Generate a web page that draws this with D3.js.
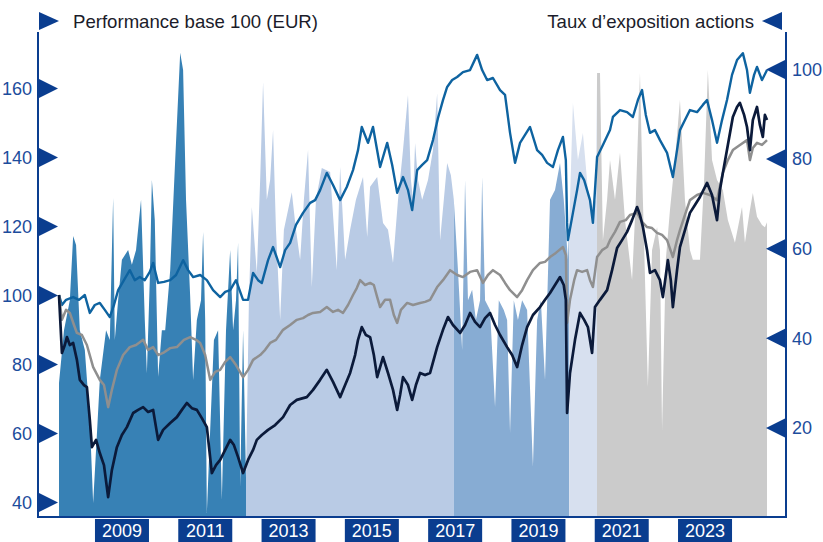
<!DOCTYPE html>
<html><head><meta charset="utf-8">
<script src="https://cdn.jsdelivr.net/npm/d3@7"></script>
<style>
html,body{margin:0;padding:0;background:#fff;}
svg{display:block;font-family:"Liberation Sans",Arial,sans-serif;}
</style></head>
<body><svg id="c" width="823" height="542"></svg>
<script>
// ---------- DATA ----------
const leftTicks = [40, 60, 80, 100, 120, 140, 160];
const rightTicks = [20, 40, 60, 80, 100];
const yearLabels = [2009, 2011, 2013, 2015, 2017, 2019, 2021, 2023];
const leftTitle = "Performance base 100 (EUR)";
const rightTitle = "Taux d\u2019exposition actions";
// exposure regime boundaries (decimal years)
const periodBreaks = [2008, 2012.49, 2017.48, 2020.25, 2020.92, 2025];

// equity exposure (%), [decimal year, value]
const exposure = [
[2008.00,29.9],[2008.12,41.7],[2008.26,48.4],[2008.34,62.7],[2008.41,60.7],[2008.50,41.7],[2008.62,37.3],[2008.74,21.7],[2008.82,3.1],[2008.89,15.0],
[2008.98,30.6],[2009.13,41.7],[2009.22,39.5],[2009.30,71.2],[2009.34,39.5],[2009.42,48.4],[2009.51,57.4],[2009.66,59.6],[2009.75,56.3],[2009.85,59.6],
[2009.97,70.8],[2010.06,44.0],[2010.11,32.1],[2010.18,52.9],[2010.23,75.2],[2010.30,66.3],[2010.38,31.3],[2010.47,41.7],[2010.55,41.7],[2010.67,55.1],
[2010.79,79.7],[2010.91,103.6],[2010.98,99.8],[2011.05,70.8],[2011.15,49.1],[2011.22,30.6],[2011.31,44.0],[2011.41,48.4],[2011.46,63.6],[2011.51,44.0],
[2011.55,0.9],[2011.63,19.4],[2011.72,39.5],[2011.82,41.7],[2011.91,3.8],[2012.01,41.7],[2012.11,59.6],[2012.18,41.7],[2012.25,48.4],[2012.30,61.2],
[2012.35,6.7],[2012.42,41.7],[2012.49,8.9],
[2012.56,48.4],[2012.63,69.2],[2012.75,54.5],[2012.83,75.2],[2012.90,97.1],[2012.99,70.8],[2013.07,75.2],[2013.14,86.4],[2013.21,64.1],[2013.31,44.0],
[2013.40,64.1],[2013.50,68.5],[2013.59,72.5],[2013.69,64.1],[2013.79,57.4],[2013.88,70.8],[2013.98,81.9],[2014.07,51.3],[2014.17,70.8],[2014.31,77.9],
[2014.51,77.0],[2014.67,55.1],[2014.75,78.1],[2014.87,57.4],[2014.99,64.1],[2015.13,70.8],[2015.30,75.9],[2015.40,62.5],[2015.47,73.7],[2015.64,75.9],
[2015.78,65.6],[2015.90,64.1],[2016.02,56.7],[2016.14,70.8],[2016.26,81.9],[2016.38,94.2],[2016.45,75.2],[2016.50,70.8],[2016.55,83.5],[2016.62,75.2],
[2016.72,70.8],[2016.86,75.2],[2016.98,81.9],[2017.08,94.6],[2017.15,61.8],[2017.24,70.8],[2017.32,79.0],[2017.41,76.3],[2017.48,70.8],
[2017.58,55.1],[2017.68,37.3],[2017.75,75.2],[2017.82,48.4],[2017.92,50.7],[2018.01,44.0],[2018.11,48.4],[2018.16,75.9],[2018.23,48.4],[2018.35,46.2],
[2018.47,24.6],[2018.56,48.4],[2018.68,46.2],[2018.76,44.0],[2018.83,18.8],[2018.92,48.4],[2019.02,44.0],[2019.12,48.4],[2019.24,46.2],[2019.38,11.2],
[2019.48,44.0],[2019.57,48.4],[2019.67,30.6],[2019.79,70.8],[2019.91,73.0],[2020.03,79.0],[2020.12,70.8],[2020.22,57.4],
[2020.27,70.8],[2020.34,92.4],[2020.46,79.7],[2020.58,85.7],[2020.70,73.0],[2020.82,69.2],[2020.89,70.8],
[2020.92,99.1],[2020.99,99.1],[2021.06,61.8],[2021.16,70.8],[2021.23,79.7],[2021.35,70.8],[2021.47,81.3],[2021.59,66.3],[2021.76,52.9],[2021.85,70.8],
[2021.95,99.1],[2022.02,70.8],[2022.14,29.0],[2022.24,59.6],[2022.36,64.7],[2022.43,59.6],[2022.48,19.4],[2022.57,57.4],[2022.67,68.5],[2022.79,79.7],
[2022.91,93.1],[2023.03,70.8],[2023.15,59.6],[2023.22,57.4],[2023.39,57.4],[2023.49,75.2],[2023.58,99.8],[2023.68,79.7],[2023.80,75.2],[2023.94,73.0],
[2024.06,66.3],[2024.23,61.2],[2024.40,69.2],[2024.47,61.2],[2024.59,68.5],[2024.66,72.3],[2024.76,67.0],[2024.88,65.2],[2024.95,64.7],[2025.00,65.8]
];

// performance base 100 series, [decimal year, value]
const seriesBlue = [
[2008.00,100],[2008.07,97.1],[2008.17,98.6],[2008.34,99.4],[2008.48,98.6],[2008.62,100],[2008.74,94.8],[2008.86,97.1],[2008.98,97.7],[2009.10,95.7],
[2009.22,93.6],[2009.32,97.1],[2009.42,101.4],[2009.56,104.3],[2009.70,107.2],[2009.82,104.3],[2009.94,105.2],[2010.06,104.3],[2010.18,106.7],[2010.26,109.3],
[2010.38,103.5],[2010.52,103.8],[2010.67,104.3],[2010.81,105.8],[2010.98,110.1],[2011.10,107.2],[2011.22,105.2],[2011.39,105.8],[2011.55,104.3],[2011.70,101.4],
[2011.87,99.4],[2011.99,100.9],[2012.11,101.4],[2012.25,104.3],[2012.42,98.6],[2012.54,98.6],[2012.66,106.4],[2012.78,104.3],[2012.87,103.5],[2013.02,110.1],
[2013.14,113.9],[2013.31,108.1],[2013.43,113.0],[2013.55,115.1],[2013.69,120.3],[2013.86,123.8],[2014.03,126.7],[2014.15,127.5],[2014.27,130.4],[2014.43,135.4],
[2014.58,131.9],[2014.75,127.5],[2014.91,131.3],[2015.06,136.2],[2015.18,142.0],[2015.27,148.7],[2015.42,144.1],[2015.54,148.7],[2015.71,137.1],[2015.88,144.1],
[2016.00,137.7],[2016.12,129.6],[2016.26,134.2],[2016.38,130.4],[2016.48,124.6],[2016.60,136.2],[2016.72,137.7],[2016.84,139.1],[2016.98,144.9],[2017.10,151.3],
[2017.22,156.5],[2017.32,160.3],[2017.44,162.3],[2017.56,163.2],[2017.70,164.6],[2017.87,165.2],[2018.04,169.6],[2018.16,165.2],[2018.28,162.3],[2018.42,162.9],
[2018.59,159.4],[2018.71,158.0],[2018.83,147.0],[2018.95,138.3],[2019.07,144.1],[2019.19,146.4],[2019.31,148.7],[2019.48,142.0],[2019.60,140.6],[2019.72,138.3],
[2019.86,137.1],[2019.98,142.0],[2020.10,145.8],[2020.17,139.1],[2020.20,120.9],[2020.22,115.9],[2020.34,123.8],[2020.44,130.4],[2020.51,135.4],[2020.61,133.3],
[2020.68,130.4],[2020.75,127.5],[2020.82,120.9],[2020.92,140.0],[2021.06,143.5],[2021.23,147.8],[2021.30,151.6],[2021.47,153.6],[2021.64,153.0],[2021.78,151.6],
[2021.90,156.5],[2022.00,159.4],[2022.09,152.2],[2022.19,147.0],[2022.31,147.8],[2022.43,144.9],[2022.60,141.2],[2022.74,134.2],[2022.84,142.0],[2022.91,147.8],
[2023.03,150.7],[2023.15,153.6],[2023.32,153.0],[2023.46,155.1],[2023.56,156.5],[2023.68,150.7],[2023.80,144.1],[2023.92,150.7],[2024.04,156.5],[2024.16,163.8],
[2024.28,168.1],[2024.42,170.1],[2024.52,165.2],[2024.59,158.6],[2024.69,163.8],[2024.76,166.1],[2024.88,162.3],[2025.00,165.2]
];
const seriesGray = [
[2008.00,100],[2008.07,92.8],[2008.17,95.7],[2008.26,94.8],[2008.36,91.3],[2008.43,89.0],[2008.55,88.4],[2008.67,85.5],[2008.82,79.1],[2008.98,75.4],
[2009.08,73.9],[2009.18,67.5],[2009.27,72.5],[2009.39,78.3],[2009.54,82.6],[2009.70,84.9],[2009.85,85.5],[2010.02,87.0],[2010.14,84.1],[2010.26,84.9],
[2010.38,82.6],[2010.50,83.2],[2010.67,84.6],[2010.83,84.9],[2011.00,87.0],[2011.15,87.8],[2011.29,87.0],[2011.39,86.1],[2011.51,82.6],[2011.63,75.4],
[2011.75,77.7],[2011.87,78.3],[2011.99,80.6],[2012.11,82.0],[2012.25,79.7],[2012.42,76.2],[2012.54,78.3],[2012.66,81.2],[2012.83,82.6],[2012.95,84.1],
[2013.07,86.1],[2013.21,87.0],[2013.38,89.9],[2013.55,91.3],[2013.71,92.8],[2013.86,93.3],[2013.98,94.2],[2014.10,94.8],[2014.27,95.1],[2014.43,96.5],
[2014.58,95.1],[2014.70,95.7],[2014.82,94.8],[2014.94,97.1],[2015.06,100.0],[2015.15,102.0],[2015.23,104.3],[2015.35,102.9],[2015.47,103.5],[2015.56,102.9],
[2015.64,99.4],[2015.71,96.5],[2015.83,98.6],[2015.95,98.6],[2016.04,94.2],[2016.12,91.9],[2016.21,95.7],[2016.36,97.7],[2016.50,97.1],[2016.67,97.7],
[2016.79,98.0],[2016.91,98.6],[2017.08,102.3],[2017.22,104.3],[2017.39,107.2],[2017.56,105.8],[2017.70,105.2],[2017.87,106.7],[2018.04,107.2],[2018.18,103.5],
[2018.30,105.8],[2018.42,107.2],[2018.59,105.8],[2018.71,103.5],[2018.83,101.4],[2019.00,99.4],[2019.12,101.4],[2019.24,104.3],[2019.38,107.2],[2019.55,109.3],
[2019.67,109.6],[2019.79,111.0],[2019.93,112.2],[2020.10,113.9],[2020.17,111.6],[2020.20,91.9],[2020.27,98.6],[2020.37,104.3],[2020.44,107.2],[2020.56,106.7],
[2020.68,107.2],[2020.75,104.3],[2020.82,102.3],[2020.92,111.0],[2021.04,113.0],[2021.16,113.9],[2021.23,115.9],[2021.35,118.3],[2021.47,121.2],[2021.61,121.7],
[2021.71,123.2],[2021.88,123.8],[2022.00,121.2],[2022.12,119.7],[2022.24,119.4],[2022.36,118.0],[2022.48,117.4],[2022.60,115.9],[2022.74,111.0],[2022.84,115.9],
[2022.91,118.8],[2023.03,123.2],[2023.15,127.5],[2023.32,129.0],[2023.46,129.6],[2023.63,129.0],[2023.80,127.5],[2023.94,135.4],[2024.06,139.1],[2024.18,142.0],
[2024.35,143.5],[2024.52,144.9],[2024.59,139.1],[2024.66,142.6],[2024.76,144.1],[2024.88,143.5],[2025.00,144.9]
];
const seriesNavy = [
[2008.00,100],[2008.07,83.2],[2008.14,85.5],[2008.19,87.8],[2008.26,85.5],[2008.34,86.1],[2008.43,81.2],[2008.50,75.4],[2008.60,73.9],[2008.67,73.3],
[2008.74,63.8],[2008.79,55.9],[2008.89,58.0],[2008.98,54.2],[2009.08,50.7],[2009.18,41.4],[2009.27,49.3],[2009.39,55.9],[2009.51,59.4],[2009.63,61.7],
[2009.78,65.8],[2009.90,66.7],[2010.02,67.5],[2010.14,66.1],[2010.26,66.7],[2010.38,58.0],[2010.50,60.9],[2010.67,62.9],[2010.83,64.6],[2010.95,66.7],
[2011.07,68.7],[2011.19,67.2],[2011.31,66.7],[2011.43,64.3],[2011.55,61.7],[2011.67,48.4],[2011.77,50.7],[2011.87,52.2],[2011.99,55.1],[2012.11,58.0],
[2012.20,56.5],[2012.30,53.0],[2012.42,48.4],[2012.54,52.2],[2012.66,55.1],[2012.75,58.0],[2012.87,59.4],[2013.02,60.9],[2013.19,62.3],[2013.38,64.6],
[2013.55,68.1],[2013.71,69.6],[2013.95,70.4],[2014.10,72.5],[2014.27,75.4],[2014.43,78.3],[2014.58,74.8],[2014.75,70.4],[2014.87,73.9],[2014.99,77.4],
[2015.11,82.6],[2015.18,87.0],[2015.27,90.7],[2015.37,88.4],[2015.47,87.8],[2015.56,82.6],[2015.64,76.2],[2015.78,82.0],[2015.90,77.4],[2016.02,72.5],
[2016.12,66.7],[2016.19,71.0],[2016.26,76.2],[2016.38,73.9],[2016.48,69.6],[2016.57,73.9],[2016.67,77.4],[2016.79,76.8],[2016.91,77.4],[2017.08,84.9],
[2017.22,89.9],[2017.34,93.6],[2017.46,91.3],[2017.63,89.0],[2017.75,91.3],[2017.87,94.8],[2017.99,92.2],[2018.11,90.7],[2018.23,93.3],[2018.35,94.8],
[2018.47,91.3],[2018.59,88.4],[2018.76,84.9],[2018.88,82.6],[2019.00,79.1],[2019.12,85.5],[2019.24,90.7],[2019.38,94.2],[2019.55,96.5],[2019.67,98.6],
[2019.79,100.6],[2019.91,102.9],[2020.03,105.2],[2020.12,102.9],[2020.17,98.6],[2020.20,65.8],[2020.27,77.4],[2020.39,87.0],[2020.51,94.8],[2020.61,92.8],
[2020.70,90.7],[2020.80,83.2],[2020.87,96.5],[2020.99,98.6],[2021.16,101.4],[2021.28,107.2],[2021.40,113.6],[2021.52,115.9],[2021.64,118.3],[2021.76,121.7],
[2021.88,125.5],[2021.95,123.2],[2022.02,119.7],[2022.12,113.0],[2022.19,106.4],[2022.31,107.2],[2022.43,104.3],[2022.50,99.4],[2022.62,110.1],[2022.69,104.3],
[2022.74,96.5],[2022.84,107.2],[2022.91,113.9],[2023.03,118.8],[2023.15,123.8],[2023.27,126.1],[2023.39,128.4],[2023.56,132.5],[2023.68,129.0],[2023.80,121.7],
[2023.87,130.4],[2023.94,135.4],[2024.06,143.5],[2024.18,151.6],[2024.28,154.5],[2024.35,155.7],[2024.45,152.2],[2024.52,148.7],[2024.59,142.0],[2024.66,150.7],
[2024.76,154.5],[2024.83,149.3],[2024.90,145.8],[2024.95,152.2],[2025.00,150.7]
];

// ---------- STYLE ----------
const periodColors = ["#3781b5", "#b9cbe5", "#87acd3", "#d7e0ef", "#cbcbcb"];
const axisBlue = "#0a3d8f";
const labelBlue = "#1c4c9c";

// ---------- CHART ----------
const svg = d3.select("#c");
const frame = {left: 38, right: 786, top: 32, bottom: 517};

const x = d3.scaleLinear().domain([2008, 2025]).range([59, 767]);
const yL = d3.scaleLinear().domain([40, 160]).range([502, 88]);
const yR = d3.scaleLinear().domain([0, 100]).range([frame.bottom, 69]);

// clip paths per exposure regime
const defs = svg.append("defs");
periodBreaks.slice(0, -1).forEach((b, i) => {
  defs.append("clipPath").attr("id", "clip" + i)
    .append("rect")
    .attr("x", x(b)).attr("y", 0)
    .attr("width", x(periodBreaks[i + 1]) - x(b))
    .attr("height", frame.bottom);
});

const area = d3.area()
  .x(d => x(d[0])).y0(yR(0)).y1(d => yR(d[1]));

const gArea = svg.append("g");
periodColors.forEach((c, i) => {
  gArea.append("path").datum(exposure)
    .attr("clip-path", `url(#clip${i})`)
    .attr("d", area)
    .attr("fill", c);
});

// lines
const line = d3.line().x(d => x(d[0])).y(d => yL(d[1]));
const lines = [
  {data: seriesBlue, color: "#0e63a0", w: 2.4},
  {data: seriesGray, color: "#8f8f8f", w: 2.5},
  {data: seriesNavy, color: "#0b1a3a", w: 2.7}
];
lines.forEach(l => {
  svg.append("path").datum(l.data)
    .attr("d", line).attr("fill", "none")
    .attr("stroke", l.color).attr("stroke-width", l.w)
    .attr("stroke-linejoin", "round");
});

// frame lines
svg.append("path")
  .attr("d", `M${frame.left},${frame.top}V${frame.bottom}H${frame.right}V${frame.top}`)
  .attr("fill", "none").attr("stroke", axisBlue).attr("stroke-width", 2);

// left axis
const axL = svg.append("g").attr("transform", `translate(${frame.left},0)`)
  .call(d3.axisLeft(yL).tickValues(leftTicks).tickSize(0).tickPadding(6));
axL.select(".domain").remove();
axL.selectAll(".tick text")
  .attr("fill", labelBlue).attr("font-size", 18)
  .attr("font-family", "Liberation Sans, Arial, sans-serif").attr("dy", "0.35em");
axL.selectAll(".tick").append("path")
  .attr("d", "M0,-10L20,0L0,10Z").attr("fill", axisBlue);

// right axis
const axR = svg.append("g").attr("transform", `translate(${frame.right},0)`)
  .call(d3.axisRight(yR).tickValues(rightTicks).tickSize(0).tickPadding(6));
axR.select(".domain").remove();
axR.selectAll(".tick text")
  .attr("fill", labelBlue).attr("font-size", 18)
  .attr("font-family", "Liberation Sans, Arial, sans-serif").attr("dy", "0.35em");
axR.selectAll(".tick").append("path")
  .attr("d", "M0,-10L-20,0L0,10Z").attr("fill", axisBlue);

// bottom axis with boxed year labels (centred mid-year)
const axB = svg.append("g").attr("transform", `translate(0,${frame.bottom})`)
  .call(d3.axisBottom(x).tickValues(yearLabels.map(yv => yv + 0.5))
    .tickSize(0).tickPadding(0).tickFormat(v => String(Math.floor(v))));
axB.select(".domain").remove();
axB.selectAll(".tick").insert("rect", "text")
  .attr("x", -27).attr("y", 2).attr("width", 54).attr("height", 24)
  .attr("fill", axisBlue);
axB.selectAll(".tick text")
  .attr("fill", "#fff").attr("font-size", 18).attr("y", 14).attr("dy", "0.35em")
  .attr("font-family", "Liberation Sans, Arial, sans-serif");

// titles with marker triangles
svg.append("path").attr("d", "M39,12L59,21L39,30Z").attr("fill", axisBlue);
svg.append("text").attr("x", 73).attr("y", 28).text(leftTitle)
  .attr("font-size", 18.6).attr("fill", "#1b1c2a");
svg.append("path").attr("d", "M782,12L762,21L782,30Z").attr("fill", axisBlue);
svg.append("text").attr("x", 754).attr("y", 28).attr("text-anchor", "end").text(rightTitle)
  .attr("font-size", 18.6).attr("fill", "#1b1c2a");
</script>
</body></html>
